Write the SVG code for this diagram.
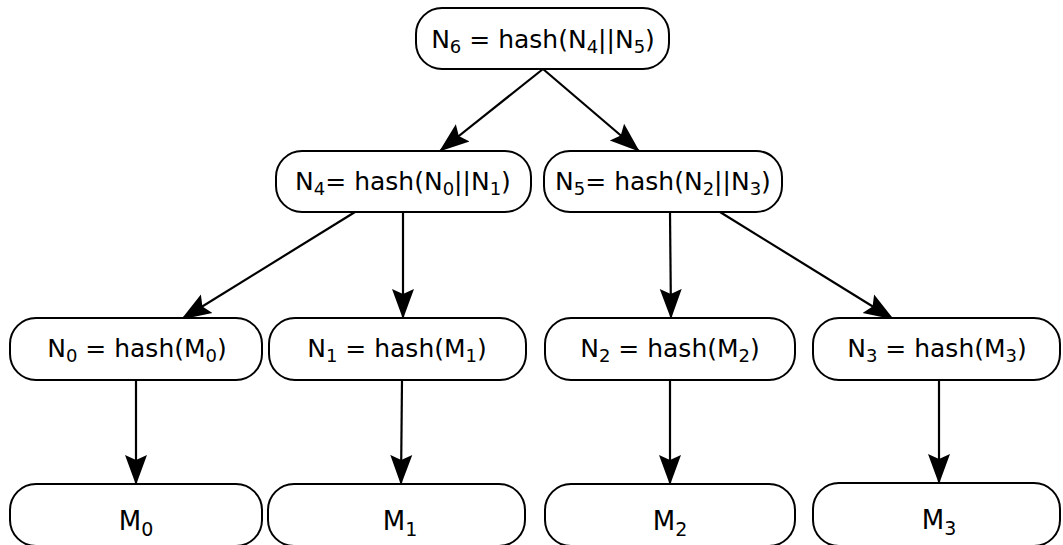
<svg xmlns="http://www.w3.org/2000/svg" width="1063" height="545" viewBox="0 0 1063 545">
<style>
.box{fill:#fff;stroke:#000;stroke-width:2}
.t{font-family:"DejaVu Sans",sans-serif;font-size:25px;fill:#000;text-anchor:middle}
.s{font-size:18px}
.m{font-size:26px}
.ms{font-size:19px}
.e{stroke:#000;stroke-width:2.2;fill:none;marker-end:url(#ah)}
</style>
<defs>
<marker id="ah" viewBox="0 0 30 24" refX="29" refY="12" markerWidth="30" markerHeight="24" markerUnits="userSpaceOnUse" orient="auto">
<path d="M0,1 L30,12 L0,23 L5,12 Z" fill="#000"/>
</marker>
</defs>
<rect width="1063" height="545" fill="#fff"/>
<g id="connectors">
<line class="e" x1="543" y1="69" x2="440" y2="151"/>
<line class="e" x1="543" y1="69" x2="639" y2="151"/>
<line class="e" x1="355" y1="212" x2="182" y2="319"/>
<line class="e" x1="403" y1="212" x2="403" y2="318"/>
<line class="e" x1="670" y1="212" x2="671" y2="318"/>
<line class="e" x1="720" y1="212" x2="893" y2="319"/>
<line class="e" x1="136" y1="380" x2="136" y2="484"/>
<line class="e" x1="402" y1="380" x2="401" y2="484"/>
<line class="e" x1="670" y1="380" x2="670" y2="484"/>
<line class="e" x1="939" y1="380" x2="939" y2="483"/>
</g>
<g id="N6">
<rect class="box" x="416" y="8" width="253" height="61" rx="26"/>
<text class="t" x="543" y="48">N<tspan class="s" dy="5">6</tspan><tspan dy="-5"> = hash(N</tspan><tspan class="s" dy="5">4</tspan><tspan dy="-5">||N</tspan><tspan class="s" dy="5">5</tspan><tspan dy="-5">)</tspan></text>
</g>
<g id="N4">
<rect class="box" x="276" y="151" width="255" height="61" rx="26"/>
<text class="t" x="403" y="190">N<tspan class="s" dy="5">4</tspan><tspan dy="-5">= hash(N</tspan><tspan class="s" dy="5">0</tspan><tspan dy="-5">||N</tspan><tspan class="s" dy="5">1</tspan><tspan dy="-5">)</tspan></text>
</g>
<g id="N5">
<rect class="box" x="544" y="151" width="238" height="61" rx="26"/>
<text class="t" x="663" y="190">N<tspan class="s" dy="5">5</tspan><tspan dy="-5">= hash(N</tspan><tspan class="s" dy="5">2</tspan><tspan dy="-5">||N</tspan><tspan class="s" dy="5">3</tspan><tspan dy="-5">)</tspan></text>
</g>
<g id="N0">
<rect class="box" x="10" y="318" width="252" height="62" rx="26"/>
<text class="t" x="137" y="357">N<tspan class="s" dy="5">0</tspan><tspan dy="-5"> = hash(M</tspan><tspan class="s" dy="5">0</tspan><tspan dy="-5">)</tspan></text>
</g>
<g id="N1">
<rect class="box" x="269" y="318" width="257" height="62" rx="26"/>
<text class="t" x="397" y="357">N<tspan class="s" dy="5">1</tspan><tspan dy="-5"> = hash(M</tspan><tspan class="s" dy="5">1</tspan><tspan dy="-5">)</tspan></text>
</g>
<g id="N2">
<rect class="box" x="545" y="318" width="250" height="62" rx="26"/>
<text class="t" x="670" y="357">N<tspan class="s" dy="5">2</tspan><tspan dy="-5"> = hash(M</tspan><tspan class="s" dy="5">2</tspan><tspan dy="-5">)</tspan></text>
</g>
<g id="N3">
<rect class="box" x="813" y="318" width="247" height="62" rx="26"/>
<text class="t" x="937" y="357">N<tspan class="s" dy="5">3</tspan><tspan dy="-5"> = hash(M</tspan><tspan class="s" dy="5">3</tspan><tspan dy="-5">)</tspan></text>
</g>
<g id="M0">
<rect class="box" x="10" y="484" width="252" height="62" rx="26"/>
<text class="t m" x="136" y="530">M<tspan class="ms" dy="6">0</tspan></text>
</g>
<g id="M1">
<rect class="box" x="268" y="484" width="257" height="62" rx="26"/>
<text class="t m" x="400" y="530">M<tspan class="ms" dy="6">1</tspan></text>
</g>
<g id="M2">
<rect class="box" x="545" y="484" width="250" height="62" rx="26"/>
<text class="t m" x="670" y="530">M<tspan class="ms" dy="6">2</tspan></text>
</g>
<g id="M3">
<rect class="box" x="813" y="483" width="247" height="63" rx="26"/>
<text class="t m" x="939" y="529">M<tspan class="ms" dy="6">3</tspan></text>
</g>
</svg>
